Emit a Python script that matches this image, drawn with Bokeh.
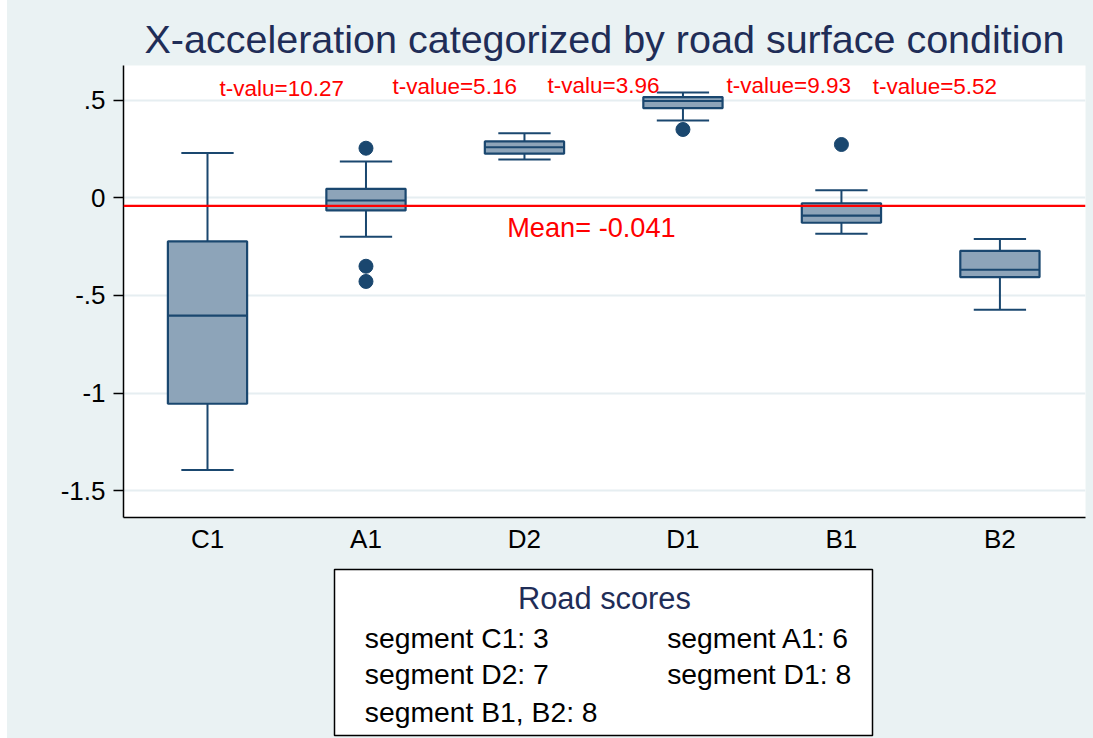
from bokeh.plotting import figure
from bokeh.models import Range1d, FixedTicker, Span
from bokeh.layouts import column
from bokeh.core.properties import value
from bokeh.embed import file_html
from bokeh.resources import INLINE

# ---------------- data ----------------
categories = ["C1", "A1", "D2", "D1", "B1", "B2"]
upper_whisker = [0.230, 0.187, 0.332, 0.541, 0.040, -0.211]
q3 = [-0.223, 0.047, 0.290, 0.517, -0.027, -0.271]
median = [-0.603, -0.013, 0.260, 0.497, -0.091, -0.368]
q1 = [-1.055, -0.064, 0.227, 0.460, -0.127, -0.406]
lower_whisker = [-1.394, -0.199, 0.197, 0.397, -0.184, -0.573]

outlier_cat = ["A1", "A1", "A1", "D1", "B1"]
outlier_val = [0.255, -0.350, -0.428, 0.351, 0.274]

mean_value = -0.041
t_labels = ["t-valu=10.27", "t-value=5.16", "t-valu=3.96", "t-value=9.93", "t-value=5.52"]

y_ticks = [-1.5, -1.0, -0.5, 0.0, 0.5]
y_tick_labels = ["-1.5", "-1", "-.5", "0", ".5"]

legend_title = "Road scores"
legend_entries = ["segment C1: 3", "segment A1: 6", "segment D2: 7",
                  "segment D1: 8", "segment B1, B2: 8"]

title_text = "X-acceleration categorized by road surface condition"

# ---------------- layout / style ----------------
FONT = "Liberation Sans"
BG = "#EAF2F3"
NAVY = "#1A476F"
BOXFILL = "#8DA4B9"
TITLE_COL = "#1F2D57"

# label placement (data coords)
t_x = [1.076, 2.167, 3.146, 4.275, 5.197]
t_y = [0.562, 0.570, 0.575, 0.575, 0.572]
mean_label_x = 2.891
mean_label_y = -0.150

xpos = list(range(1, len(categories) + 1))
cat_pos = {c: i for c, i in zip(categories, xpos)}
out_x = [cat_pos[c] for c in outlier_cat]

p = figure(width=1086, height=560, output_backend="svg", toolbar_location=None,
           x_range=Range1d(0.47, 6.54), y_range=Range1d(-1.638, 0.679),
           min_border_left=116, min_border_right=8, min_border_top=65,
           min_border_bottom=43)
p.border_fill_color = BG
p.background_fill_color = "white"
p.outline_line_color = None

p.title.text = title_text
p.title.text_font = FONT
p.title.text_font_size = "39.5px"
p.title.text_font_style = "normal"
p.title.text_color = TITLE_COL
p.title.align = "center"
p.title.standoff = 10

# grid
p.xgrid.visible = False
p.ygrid.ticker = FixedTicker(ticks=y_ticks)
p.ygrid.grid_line_color = "#E6EEF1"
p.ygrid.grid_line_width = 2

# axes
p.yaxis.ticker = FixedTicker(ticks=y_ticks)
p.yaxis.major_label_overrides = {t: l for t, l in zip(y_ticks, y_tick_labels)}
p.xaxis.ticker = FixedTicker(ticks=xpos)
p.xaxis.major_label_overrides = {float(i): c for i, c in zip(xpos, categories)}
for ax in (p.xaxis[0], p.yaxis[0]):
    ax.axis_line_color = "black"
    ax.axis_line_width = 1.5
    ax.major_label_text_font = FONT
    ax.major_label_text_font_size = "26px"
    ax.major_label_text_color = "black"
    ax.minor_tick_line_color = None
    ax.major_tick_line_color = "black"
    ax.major_tick_line_width = 1.5
p.yaxis.major_tick_out = 10
p.yaxis.major_tick_in = 0
p.yaxis.major_label_standoff = 8
p.xaxis.major_tick_out = 0
p.xaxis.major_tick_in = 0
p.xaxis.major_label_standoff = 6

# mean line
p.add_layout(Span(location=mean_value, dimension="width", line_color="#FF0000",
                  line_width=2.2))

# whiskers
p.segment(x0=xpos, y0=q3, x1=xpos, y1=upper_whisker, line_color=NAVY, line_width=2)
p.segment(x0=xpos, y0=q1, x1=xpos, y1=lower_whisker, line_color=NAVY, line_width=2)
cap_w = 0.165
p.segment(x0=[x - cap_w for x in xpos], y0=upper_whisker,
          x1=[x + cap_w for x in xpos], y1=upper_whisker, line_color=NAVY, line_width=2)
p.segment(x0=[x - cap_w for x in xpos], y0=lower_whisker,
          x1=[x + cap_w for x in xpos], y1=lower_whisker, line_color=NAVY, line_width=2)
# boxes
p.vbar(x=xpos, width=0.5, top=q3, bottom=q1, fill_color=BOXFILL,
       line_color=NAVY, line_width=2.2)
# medians
p.segment(x0=[x - 0.25 for x in xpos], y0=median, x1=[x + 0.25 for x in xpos],
          y1=median, line_color=NAVY, line_width=2.2)
# outliers
p.scatter(x=out_x, y=outlier_val, size=14, fill_color=NAVY, line_color=NAVY)

# annotations
p.text(x=t_x, y=t_y, text=t_labels, text_font=value(FONT), text_font_size="22.5px",
       text_color="#FF0000", text_align="left", text_baseline="alphabetic")
p.text(x=[mean_label_x], y=[mean_label_y], text=["Mean= %.3f" % mean_value],
       text_font=value(FONT), text_font_size="27.2px", text_color="#FF0000",
       text_align="left", text_baseline="alphabetic")

# ---------------- legend box (second figure, same frame width) ----------------
frame_w = 962
q_h = 178
q = figure(width=1086, height=q_h, output_backend="svg", toolbar_location=None,
           x_range=Range1d(0, frame_w), y_range=Range1d(q_h, 0),
           min_border_left=116, min_border_right=8, min_border_top=0,
           min_border_bottom=0, x_axis_location=None, y_axis_location=None)
q.border_fill_color = BG
q.background_fill_color = None
q.outline_line_color = None
q.grid.visible = False

q.quad(left=[211], right=[749], top=[9], bottom=[175], fill_color="white",
       line_color="black", line_width=1.5)
q.text(x=[480.9], y=[37.7], text=[legend_title], text_font=value(FONT),
       text_font_size="30.8px", text_color=TITLE_COL, text_align="center",
       text_baseline="alphabetic")
col_x = [241.3, 543.7]
row_y = [77, 113.7, 151]
lx = [col_x[i % 2] for i in range(len(legend_entries))]
ly = [row_y[i // 2] for i in range(len(legend_entries))]
q.text(x=lx, y=ly, text=legend_entries, text_font=value(FONT),
       text_font_size="28.3px", text_color="black", text_align="left",
       text_baseline="alphabetic")

layout = column(p, q, spacing=0, margin=(0, 0, 0, 7),
                styles={"background-color": BG})
open("out.html", "w").write(file_html(layout, INLINE))
